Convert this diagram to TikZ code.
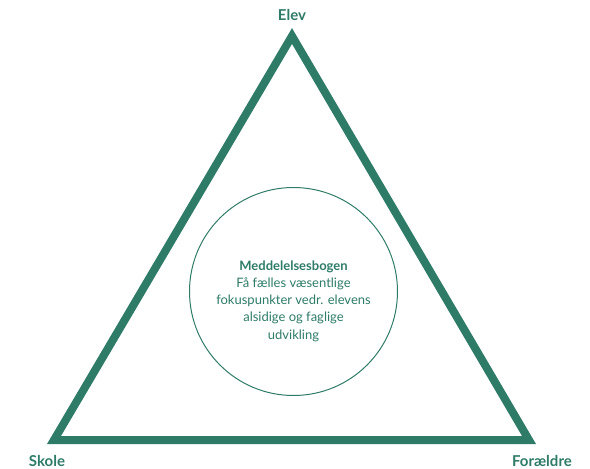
\documentclass[tikz,border=0pt]{standalone}
\usepackage{fontspec}
\setmainfont{Lato}
\definecolor{teal1}{HTML}{2E7B68}
\begin{document}
\begin{tikzpicture}[x=1pt,y=-1pt,
  corner/.style={font=\bfseries\fontsize{15}{18}\selectfont, text=teal1, inner sep=0pt},
  tri/.style={draw=teal1, line width=8pt, miter limit=10},
  ring/.style={draw=teal1, line width=1pt},
  body/.style={align=center, text=teal1, font=\fontsize{13}{17.2}\selectfont, inner sep=0pt}]
\useasboundingbox (0,0) rectangle (590,469);
\coordinate (A) at (292,36);
\coordinate (B) at (54,440);
\coordinate (C) at (529,440);
\draw[tri] (A) -- (B) -- (C) -- cycle;
\node[ring, circle, minimum size=208pt, inner sep=0pt] (circ) at (293.5,291.5) {};
\node[body] (txt) at (293.5,301) {\textbf{Meddelelsesbogen}\\Få fælles væsentlige\\fokuspunkter vedr. elevens\\alsidige og faglige\\udvikling};
\node[corner] (elev) at (292,15) {Elev};
\node[corner] (skole) at (47,461) {Skole};
\node[corner] (foraeldre) at (542,461) {Forældre};
\end{tikzpicture}
\end{document}
